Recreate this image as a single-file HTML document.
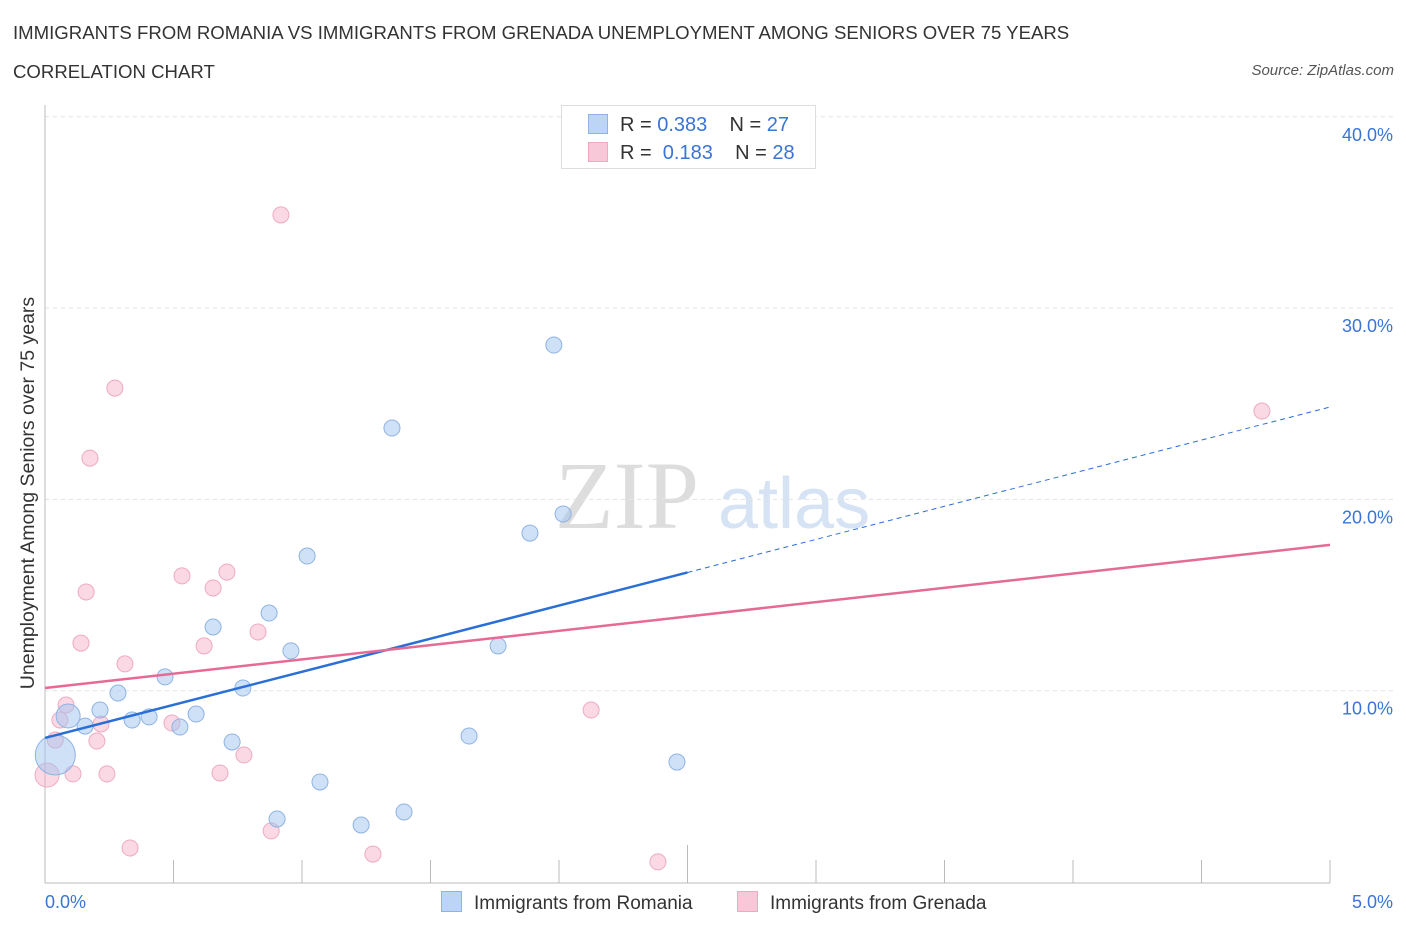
<!DOCTYPE html>
<html><head><meta charset="utf-8"><style>
body{margin:0;background:#fff;font-family:"Liberation Sans",sans-serif;}
#wrap{position:relative;width:1406px;height:930px;overflow:hidden;}
.t{position:absolute;white-space:nowrap;}
</style></head><body>
<div id="wrap">
<div class="t" style="left:13px;top:22px;font-size:18.6px;color:#333;">IMMIGRANTS FROM ROMANIA VS IMMIGRANTS FROM GRENADA UNEMPLOYMENT AMONG SENIORS OVER 75 YEARS</div>
<div class="t" style="left:13px;top:61px;font-size:18.6px;color:#333;">CORRELATION CHART</div>
<div class="t" style="right:12px;top:62px;font-size:15px;color:#555;font-style:italic;">Source: ZipAtlas.com</div>
<svg id="svg" width="1406" height="930" style="position:absolute;left:0;top:0"></svg>
</div>
<script>
const blueX=[0.04,0.09,0.156,0.214,0.284,0.339,0.405,0.467,0.525,0.588,0.654,0.728,0.77,0.872,0.903,0.957,1.02,1.07,1.23,1.35,1.397,1.65,1.763,1.887,1.98,2.016,2.459];
const blueY=[6.64,8.68,8.15,8.99,9.88,8.47,8.63,10.72,8.10,8.78,13.33,7.32,10.14,14.06,3.29,12.08,17.04,5.23,2.98,23.73,3.66,7.63,12.34,18.24,28.07,19.24,6.27];
const pinkX=[0.008,0.04,0.058,0.082,0.109,0.14,0.16,0.175,0.202,0.218,0.241,0.272,0.311,0.331,0.494,0.533,0.619,0.654,0.681,0.708,0.774,0.829,0.88,0.918,1.276,2.125,2.385,4.735];
const pinkY=[5.59,7.42,8.47,9.25,5.65,12.49,15.16,22.16,7.37,8.26,5.65,25.82,11.40,1.78,8.31,16.0,12.34,15.37,5.70,16.2,6.64,13.07,2.67,34.87,1.46,8.99,1.05,24.62];
const yTicks=[10,20,30,40];
const yTickLabels=["10.0%","20.0%","30.0%","40.0%"];
const blueTrend=[7.53,24.83];
const pinkTrend=[10.14,17.62];
const X=v=>45+v/5*1285;
const Y=v=>882-v*19.13;
const svg=document.getElementById('svg');
const NS='http://www.w3.org/2000/svg';
function mk(tag,at){const e=document.createElementNS(NS,tag);for(const k in at)e.setAttribute(k,at[k]);svg.appendChild(e);return e;}
let w=mk('text',{x:555,y:528,'font-size':96,'font-family':'Liberation Serif,serif',fill:'#ddd'});w.textContent='ZIP';


w=mk('text',{x:718,y:528,'font-size':72,'font-family':'Liberation Sans,sans-serif',fill:'#d5e3f5'});w.textContent='atlas';


yTicks.forEach((t,i)=>{
 let l=mk('line',{x1:45,x2:1395,y1:Y(t),y2:Y(t),stroke:'#e3e3e3','stroke-dasharray':'4,4'});
 
 
 let tx=mk('text',{x:1393,y:Y(t)+24,'text-anchor':'end','font-size':18,fill:'#3a74d6'});tx.textContent=yTickLabels[i];
 
 
});
let ax=mk('line',{x1:45,x2:45,y1:105,y2:883,stroke:'#bbb'});


ax=mk('line',{x1:45,x2:1330,y1:883,y2:883,stroke:'#bbb'});


for(let i=1;i<=10;i++){let t=mk('line',{x1:X(i*0.5),x2:X(i*0.5),y1:883,y2:i==5?845:860,stroke:'#bbb'});
 
 }
let xl=mk('text',{x:45,y:908,'font-size':18,fill:'#3a74d6'});xl.textContent='0.0%';


xl=mk('text',{x:1393,y:908,'text-anchor':'end','font-size':18,fill:'#3a74d6'});xl.textContent='5.0%';


let yt=mk('text',{x:0,y:0,'font-size':19.5,fill:'#333',transform:'translate(34,493) rotate(-90)','text-anchor':'middle'});yt.textContent='Unemployment Among Seniors over 75 years';


const bigB={0:20,1:12};const bigP={0:12};
pinkX.forEach((x,i)=>{let c=mk('circle',{cx:X(x),cy:Y(pinkY[i]),r:bigP[i]||8,fill:'rgba(246,170,195,0.45)',stroke:'#eeaac0','stroke-width':1});
 
 });
blueX.forEach((x,i)=>{let c=mk('circle',{cx:X(x),cy:Y(blueY[i]),r:bigB[i]||8,fill:'rgba(160,195,240,0.5)',stroke:'#8fb3e3','stroke-width':1});
 
 });
const bAt=x=>blueTrend[0]+(blueTrend[1]-blueTrend[0])*x/5;
let tl=mk('line',{x1:X(0),y1:Y(bAt(0)),x2:X(2.5),y2:Y(bAt(2.5)),stroke:'#2a6fd6','stroke-width':2.5});


tl=mk('line',{x1:X(2.5),y1:Y(bAt(2.5)),x2:X(5),y2:Y(bAt(5)),stroke:'#2a6fd6','stroke-width':1,'stroke-dasharray':'5,4'});


tl=mk('line',{x1:X(0),y1:Y(pinkTrend[0]),x2:X(5),y2:Y(pinkTrend[1]),stroke:'#e56a94','stroke-width':2.5});


</script>
<div class="t" style="left:561px;top:105px;width:253px;height:62px;border:1px solid #ddd;background:#fff;font-size:20px;color:#333;">
 <div style="position:absolute;left:26px;top:8px;"><span style="display:inline-block;width:18px;height:18px;background:#bcd4f6;border:1px solid #8fb3e3;vertical-align:-3px;margin-right:12px"></span>R = <span style="color:#3a74d6">0.383</span>&nbsp;&nbsp;&nbsp; N = <span style="color:#3a74d6">27</span></div>
 <div style="position:absolute;left:26px;top:36px;"><span style="display:inline-block;width:18px;height:18px;background:#f9c8d8;border:1px solid #eeaac0;vertical-align:-3px;margin-right:12px"></span>R = &nbsp;<span style="color:#3a74d6">0.183</span>&nbsp;&nbsp;&nbsp; N = <span style="color:#3a74d6">28</span></div>
</div>
<div class="t" style="left:441px;top:891px;font-size:19px;color:#333;"><span style="display:inline-block;width:19px;height:19px;background:#bcd4f6;border:1px solid #8fb3e3;vertical-align:-3px;margin-right:12px"></span>Immigrants from Romania</div>
<div class="t" style="left:737px;top:891px;font-size:19px;color:#333;"><span style="display:inline-block;width:19px;height:19px;background:#f9c8d8;border:1px solid #eeaac0;vertical-align:-3px;margin-right:12px"></span>Immigrants from Grenada</div>
</body></html>
